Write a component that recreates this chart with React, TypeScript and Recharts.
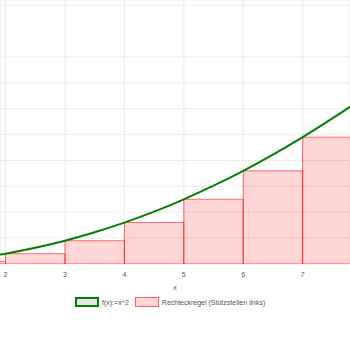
import React from 'react';
import {
  ComposedChart,
  Line,
  XAxis,
  YAxis,
  CartesianGrid,
  ReferenceArea,
  Legend
} from 'recharts';

// f(x) = x^2, sampled every half unit
const curveX = [1.5, 2, 2.5, 3, 3.5, 4, 4.5, 5, 5.5, 6, 6.5, 7, 7.5, 8, 8.5];
const curveY = [2.25, 4, 6.25, 9, 12.25, 16, 20.25, 25, 30.25, 36, 42.25, 49, 56.25, 64, 72.25];

// left-endpoint rectangles
const rectStart = [1, 2, 3, 4, 5, 6, 7];
const rectEnd = [2, 3, 4, 5, 6, 7, 8];
const rectHeight = [1, 4, 9, 16, 25, 36, 49];

const xTicks = [2, 3, 4, 5, 6, 7];
const yTicks = [0, 10, 20, 30, 40, 50, 60, 70, 80, 90, 100];

const curveData = curveX.map((x, i) => ({ x, y: curveY[i] }));

const FONT = '"Liberation Sans", Arial, sans-serif';
const GREEN = '#008000';

function LegendBox() {
  const text = { fontSize: 7, color: '#555', fontFamily: FONT, marginLeft: 3 };
  return (
    <div style={{ display: 'flex', alignItems: 'center', paddingLeft: 75 }}>
      <span
        style={{
          width: 20,
          height: 6,
          border: `2px solid ${GREEN}`,
          background: '#e6e6e6',
          display: 'inline-block'
        }}
      />
      <span style={text}>f(x):=x^2</span>
      <span
        style={{
          width: 22,
          height: 8,
          marginLeft: 6,
          border: '1px solid rgba(255,0,0,0.55)',
          background: 'rgba(255,0,0,0.16)',
          display: 'inline-block'
        }}
      />
      <span style={text}>Rechteckregel (Stützstellen links)</span>
    </div>
  );
}

export default function App() {
  return (
    <div style={{ position: 'absolute', left: 0, top: 0, background: '#fff' }}>
      <ComposedChart
        width={350}
        height={350}
        data={curveData}
        margin={{ top: 0, right: 0, bottom: 56, left: 0 }}
      >
        <CartesianGrid stroke="#ebebeb" />
        <XAxis
          dataKey="x"
          type="number"
          domain={[1.907, 7.796]}
          ticks={xTicks}
          allowDataOverflow
          axisLine={false}
          tickLine={false}
          height={30}
          tick={{ fontSize: 7, fill: '#555', fontFamily: FONT }}
          label={{
            value: 'x',
            position: 'insideBottom',
            offset: 4,
            fontSize: 7,
            fill: '#555',
            fontFamily: FONT
          }}
        />
        <YAxis
          type="number"
          domain={[0, 102]}
          ticks={yTicks}
          allowDataOverflow
          hide
        />
        {rectStart.map((x1, i) => (
          <ReferenceArea
            key={x1}
            x1={x1}
            x2={rectEnd[i]}
            y1={0}
            y2={rectHeight[i]}
            ifOverflow="hidden"
            fill="#ff0000"
            fillOpacity={0.16}
            stroke="#ff0000"
            strokeOpacity={0.55}
            strokeWidth={1}
          />
        ))}
        <Line
          dataKey="y"
          type="monotone"
          stroke={GREEN}
          strokeWidth={2}
          dot={false}
          activeDot={false}
          isAnimationActive={false}
        />
        <Legend
          verticalAlign="middle"
          align="center"
          wrapperStyle={{ top: 297, left: 0, width: 350 }}
          content={() => <LegendBox />}
        />
      </ComposedChart>
    </div>
  );
}
